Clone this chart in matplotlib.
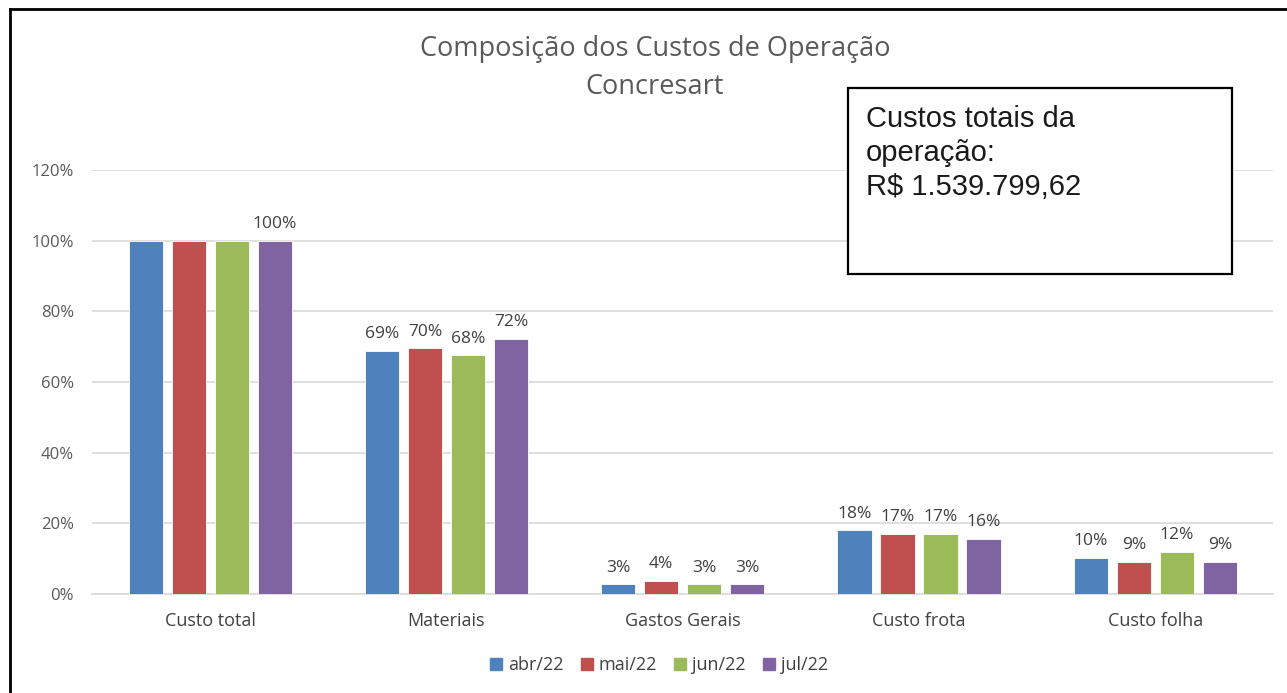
import numpy as np
import matplotlib.pyplot as plt
from matplotlib.patches import Rectangle
from matplotlib.lines import Line2D

plt.rcParams['font.family'] = ['Open Sans', 'DejaVu Sans']

# data
categorias = ['Custo total', 'Materiais', 'Gastos Gerais', 'Custo frota', 'Custo folha']
meses = ['abr/22', 'mai/22', 'jun/22', 'jul/22']
abr22 = [1.00, 0.688, 0.028, 0.181, 0.102]
mai22 = [1.00, 0.696, 0.037, 0.170, 0.091]
jun22 = [1.00, 0.676, 0.028, 0.170, 0.119]
jul22 = [1.00, 0.722, 0.028, 0.156, 0.091]
cores = ['#4F81BD', '#C0504D', '#9BBB59', '#8064A2']
texto_caixa = 'Custos totais da\noperação:\nR$ 1.539.799,62'

fig = plt.figure(figsize=(12.87, 6.93), dpi=100, facecolor='white')
ax = fig.add_axes([0.0715, 0.1429, 0.918, 0.6118])

x = np.arange(len(categorias))
largura = 0.145
passo = 0.182
series = [abr22, mai22, jun22, jul22]
for i, vals in enumerate(series):
    pos = x + (i - 1.5) * passo
    ax.bar(pos, vals, width=largura, color=cores[i], edgecolor='white',
           linewidth=0.6, zorder=3, label=meses[i])
    for j, v in enumerate(vals):
        # Excel only shows one label on the 100% group
        if j == 0 and i < 3:
            continue
        ax.text(pos[j], v + 0.024, '{:.0%}'.format(v), ha='center', va='bottom',
                fontsize=12.5, color='#404040')

ax.set_xlim(-0.5, len(categorias) - 0.5)
ax.set_ylim(0, 1.2)
ax.set_yticks(np.arange(0, 1.21, 0.2))
ax.set_yticklabels(['{:.0%}'.format(t) for t in np.arange(0, 1.21, 0.2)],
                   fontsize=12, color='#595959')
ax.set_xticks(x)
ax.set_xticklabels(categorias, fontsize=13, color='#404040')
ax.tick_params(axis='x', length=0, pad=13)
ax.tick_params(axis='y', length=0, pad=13)
ax.grid(axis='y', color='#D9D9D9', linewidth=1.2, zorder=0)
for s in ['top', 'right', 'left']:
    ax.spines[s].set_visible(False)
ax.spines['bottom'].set_color('#D9D9D9')
ax.spines['bottom'].set_linewidth(1.2)

fig.text(0.509, 0.93, 'Composição dos Custos de Operação', ha='center', va='center',
         fontsize=19.5, color='#595959')
fig.text(0.509, 0.875, 'Concresart', ha='center', va='center',
         fontsize=19.5, color='#595959')

leg = fig.legend(handles=[Line2D([], [], marker='s', linestyle='', markersize=9,
                                 color=cores[i], label=meses[i]) for i in range(4)],
                 loc='center', bbox_to_anchor=(0.512, 0.04), ncol=4, frameon=False,
                 fontsize=13, handlelength=0.7, handletextpad=0.3, columnspacing=0.95)
for t in leg.get_texts():
    t.set_color('#404040')

# caixa de texto
fig.patches.append(Rectangle((848 / 1287, 1 - 274 / 693), 384 / 1287, 186 / 693,
                             transform=fig.transFigure, facecolor='white',
                             edgecolor='black', linewidth=1.6, zorder=5))
fig.text(866 / 1287, 1 - 105 / 693, texto_caixa, ha='left', va='top', fontsize=21,
         family='Liberation Sans', color='#1a1a1a', linespacing=1.27, zorder=6)

# moldura (so esquerda e topo visiveis no recorte)
fig.add_artist(Line2D([10 / 1287, 10 / 1287], [0, 1 - 9 / 693], transform=fig.transFigure,
                      color='black', linewidth=2))
fig.add_artist(Line2D([10 / 1287, 1], [1 - 9 / 693, 1 - 9 / 693], transform=fig.transFigure,
                      color='black', linewidth=2))

fig.savefig('out.png', dpi=100, facecolor='white')
